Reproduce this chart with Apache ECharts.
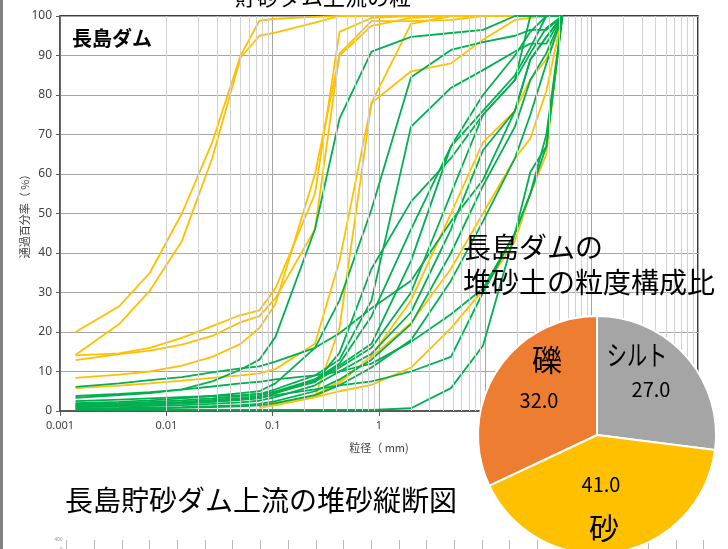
<!DOCTYPE html>
<html><head><meta charset="utf-8">
<script src="https://cdn.jsdelivr.net/npm/echarts@6/dist/echarts.min.js"></script>
<style>html,body{margin:0;padding:0;background:#fff}#c{width:728px;height:549px}</style>
</head><body><div id="c"></div>
<script>
// grain sizes (mm)
const sizes = [0.0014,0.0036,0.007,0.014,0.027,0.05,0.075,0.106,0.25,0.425,0.85,2,4.75,9.5,19,26.5,37.5,53];
// passing percentages, yellow samples
const Y1 = [20,26.5,35,50,68,90,98.8,99.3,99.8,100,100,100,100,100,100,100,100,100];
const Y2 = [14.2,22,30.5,43,64,89.5,95,95.8,98.3,100,100,100,100,100,100,100,100,100];
const Y3 = [14.1,14.6,16,18.5,21.5,24.3,25.5,31,55,96,99.5,100,100,100,100,100,100,100];
const Y4 = [12.9,14.4,15.3,16.8,19,22.5,24,28.5,46,90.5,98.7,98.7,99,100,100,100,100,100];
const Y5 = [8.4,9.2,10,11.5,13.7,17,21,27,60,90,97.5,99.5,100,100,100,100,100,100];
const Y6 = [5.8,6.4,7,7.7,8.4,9,9.5,10.6,17,38,78,86,88,94,99,99.5,100,100];
const Y7 = [null,null,null,null,null,null,0.8,1.5,3.5,21,78,98,100,100,100,100,100,100];
const Y8 = [null,null,null,null,null,null,1.2,2,3.5,5,6.6,11,21,30.6,43,55,65,100];
const Y9 = [null,null,null,null,null,null,1,1.8,4,7.5,13.7,22.3,36,50,64,69,81,100];
const Y10 = [null,null,null,null,null,null,null,1.5,3.5,7,14,28,50,68,76,84,89,99];
// passing percentages, green samples
const G1 = [3.3,4,4.5,5.5,7.5,10.5,13,18.7,46,74,91,94.7,95.7,96.5,100,100,100,100];
const G2 = [6.1,7,7.8,8.6,9.8,10.8,11.3,12.5,16,19.7,26,33,48,58.5,76,89,94.7,100];
const G3 = [2,2.3,2.7,3.2,3.8,4.5,5,7,16,28,51,84.5,91.4,93.4,95,96.5,96.5,100];
const G4 = [1.8,2,2.3,2.7,3.2,3.8,4.3,5.5,9,13,28,72,81.8,86.3,91,93,93,100];
const G5 = [1.5,1.7,2,2.3,2.8,3.3,3.8,5,8,11.5,17,38,67,76,85,92,100,100];
const G6 = [1.2,1.4,1.6,1.9,2.3,2.8,3.2,4.5,7.5,11,16,30,55,75,83.8,100,100,100];
const G7 = [1,1.1,1.3,1.5,1.8,2.2,2.6,3.5,6.5,10,14.5,25,46,66,76,89,94.7,100];
const G8 = [0.7,0.8,0.9,1,1.2,1.5,1.8,2.5,5,8,13,22,40,57,72,83.8,90.6,100];
const G9 = [0.5,0.6,0.7,0.8,1,1.2,1.4,2,4,6.5,11,18,33,48,64,75,88,100];
const G10 = [3.8,4.3,4.8,5.4,6.2,7,7.4,8,9,10,12,17.5,24.5,31,45,55,70,100];
const G11 = [0.3,0.3,0.3,0.3,0.3,0.3,0.3,0.3,0.3,0.3,0.3,0.7,5.8,16.5,45,60.5,67,100];
const G12 = [1.5,1.7,1.9,2.1,2.5,3,3.3,4,5.5,6.5,7.5,10,13.7,30,45,55,67,100];
const G13 = [2.5,2.9,3.2,3.5,3.8,4,4.3,4.8,7.3,14.7,36,53,64,75,83.8,90.6,97,100];
const G14 = [1.3,1.5,1.7,2,2.4,2.9,3.4,4.5,8,12,24,46,67,80,90,96,100,100];
const yellowSet = [Y1,Y2,Y3,Y4,Y5,Y6,Y7,Y8,Y9,Y10];
const greenSet = [G1,G2,G3,G4,G5,G6,G7,G8,G9,G10,G11,G12,G13,G14];
// pie: composition
const pieNames = ['シルト','砂','礫'];
const pieValues = [27.0,41.0,32.0];
const pieColors = ['#A5A5A5','#FFC000','#ED7D31'];
// y ticks
const yTicks = [0,10,20,30,40,50,60,70,80,90,100];

const FONT = '"Noto Sans CJK JP","Noto Sans",sans-serif';
const minorVals = [];
for (let e = -3; e <= 2; e++) for (let k = 2; k <= 9; k++) minorVals.push(+(k * Math.pow(10, e)).toPrecision(3));

function toPairs(vals){ const out=[]; vals.forEach((v,i)=>{ if(v!==null) out.push([sizes[i], v]); }); return out; }

const series = [];
series.push({
  type:'line', data:[], silent:true, z:1, animation:false,
  markLine:{ silent:true, symbol:['none','none'], label:{show:false}, animation:false,
    lineStyle:{color:'#d2d2d2', width:1, type:'solid'},
    data: minorVals.map(v=>({xAxis:v})) }
});
yellowSet.forEach(v=>series.push({type:'line', data:toPairs(v), showSymbol:false, symbol:'none', z:3, animation:false,
  lineStyle:{color:'#FFC000', width:1.8}, itemStyle:{color:'#FFC000'}}));
greenSet.forEach(v=>series.push({type:'line', data:toPairs(v), showSymbol:false, symbol:'none', z:4, animation:false,
  lineStyle:{color:'#00B050', width:1.8}, itemStyle:{color:'#00B050'}}));
series.push({
  type:'pie', center:[597,435], radius:119, startAngle:90, clockwise:true, z:6, animation:false,
  label:{show:false}, labelLine:{show:false}, silent:true,
  itemStyle:{borderColor:'#fff', borderWidth:2},
  data: pieNames.map((n,i)=>({name:n, value:pieValues[i], itemStyle:{color:pieColors[i]}}))
});

function txt(text,x,y,size,opts){
  opts = opts||{};
  return {type:'text', x:x, y:y, z:100, scaleX:opts.sx||1,
    style:{text:text, font:(opts.bold?'bold ':'')+size+'px '+FONT, fill:'#000',
      align:opts.align||'center', textAlign:opts.align||'center', verticalAlign:'middle', textVerticalAlign:'middle'}};
}
const labelPos = [
  {name:[637,355,28,0.72], val:[651,389]},
  {name:[604,528,30,1], val:[601,484]},
  {name:[547,360,30,1], val:[539,400]}
];
const graphics = [
  {type:'rect', shape:{x:0,y:0,width:3,height:549}, style:{fill:'#808080'}, z:100},
  txt('貯砂ダム上流の粒', 235, -3, 22, {align:'left'}),
  txt('長島ダム', 72, 38, 20, {align:'left', bold:true}),
  txt('長島貯砂ダム上流の堆砂縦断図', 65, 500, 28, {align:'left'}),
  txt('長島ダムの', 463, 247, 28, {align:'left'}),
  txt('堆砂土の粒度構成比', 463, 282, 28, {align:'left'})
];
labelPos.forEach((p,i)=>{
  graphics.push(txt(pieNames[i], p.name[0], p.name[1], p.name[2], {sx:p.name[3]}));
  graphics.push(txt(pieValues[i].toFixed(1), p.val[0], p.val[1], 20));
});

const chart = echarts.init(document.getElementById('c'), null, {renderer:'canvas'});
chart.setOption({
  backgroundColor:'#fff',
  animation:false,
  grid:[
    {left:60, top:16, width:638, height:395, show:true, borderColor:'#000', borderWidth:1.5, backgroundColor:'transparent'},
    {left:66.5, top:540, width:637, height:40, show:false}
  ],
  xAxis:[
    {type:'log', logBase:10, min:0.001, max:1000, gridIndex:0,
     name:'粒径（ mm)', nameLocation:'middle', nameGap:31, nameMoveOverlap:false,
     nameTextStyle:{fontSize:11, color:'#404040', fontFamily:FONT},
     axisLine:{show:true, lineStyle:{color:'#595959', width:2}},
     axisTick:{show:true, length:5, lineStyle:{color:'#595959'}},
     axisLabel:{fontSize:11, color:'#404040', margin:9, fontFamily:'"Noto Sans",sans-serif',
       formatter:v=>String(+(+v).toPrecision(3))},
     splitLine:{show:true, lineStyle:{color:'#a6a6a6', width:1}}},
    {type:'value', gridIndex:1, min:0, max:23, interval:1,
     axisLine:{show:false}, axisTick:{show:false}, axisLabel:{show:false},
     splitLine:{show:true, lineStyle:{color:'#b8b8b8', width:1}}}
  ],
  yAxis:[
    {type:'value', min:0, max:100, interval:10, gridIndex:0,
     name:'通過百分率（ %）', nameLocation:'middle', nameGap:30, nameRotate:90, nameMoveOverlap:false,
     nameTextStyle:{fontSize:11, color:'#404040', fontFamily:FONT},
     axisLine:{show:true, lineStyle:{color:'#595959', width:1.5}},
     axisTick:{show:true, length:4, lineStyle:{color:'#595959'}},
     axisLabel:{fontSize:12, color:'#404040', margin:8, fontFamily:'"Noto Sans",sans-serif',
       formatter:v=> yTicks.indexOf(v)>=0 ? String(v) : ''},
     splitLine:{show:true, lineStyle:{color:'#a6a6a6', width:1}}},
    {type:'value', gridIndex:1, min:0, max:400, interval:400,
     axisLine:{show:false}, axisTick:{show:false}, splitLine:{show:false},
     axisLabel:{fontSize:5, color:'#999', margin:4}}
  ],
  series: series,
  graphic: graphics
});
</script></body></html>
